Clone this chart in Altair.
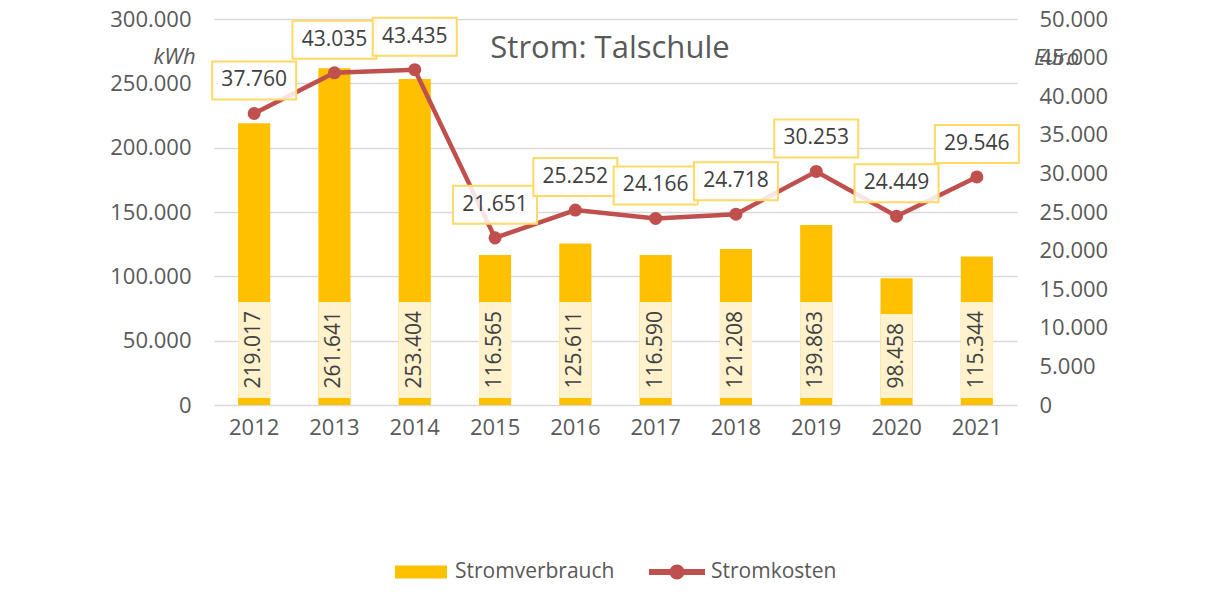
import altair as alt
import pandas as pd

years = ["2012", "2013", "2014", "2015", "2016", "2017", "2018", "2019", "2020", "2021"]
kwh = [219017, 261641, 253404, 116565, 125611, 116590, 121208, 139863, 98458, 115344]
euro = [37760, 43035, 43435, 21651, 25252, 24166, 24718, 30253, 24449, 29546]
series_names = ["Stromverbrauch", "Stromkosten"]
kwh_ticks = [0, 50000, 100000, 150000, 200000, 250000, 300000]
euro_ticks = [0, 5000, 10000, 15000, 20000, 25000, 30000, 35000, 40000, 45000, 50000]
chart_title = ["Strom: Talschule"]

df = pd.DataFrame({"year": years, "kwh": kwh, "euro": euro})
leg_df = pd.DataFrame({"series": series_names})
title_df = pd.DataFrame({"t": chart_title})

FONT = "Open Sans"
GOLD = "#FFC000"
RED = "#C0504D"
GRAY = "#595959"
DARK = "#404040"
BOXFILL = "#FFF2CC"
BOXLINE = "#FFD966"

BOX_PATH = "M-1,-0.4524L1,-0.4524L1,0.4524L-1,0.4524Z"
RECT_PATH = "M-0.93,-0.232L0.93,-0.232L0.93,0.232L-0.93,0.232Z"
LINEDOT_PATH = ("M-1,-0.107L1,-0.107L1,0.107L-1,0.107Z "
                "M-0.268,0A0.268,0.268 0 1,1 0.268,0A0.268,0.268 0 1,1 -0.268,0Z")

x = alt.X(
    "year:N", title=None,
    scale=alt.Scale(paddingInner=0.6, paddingOuter=0.3),
    axis=alt.Axis(labelAngle=0, labelFontSize=22, labelColor=GRAY, labelFont=FONT,
                  ticks=False, domain=False, labelPadding=12, grid=False),
)

kscale = alt.Scale(domain=[0, 300000], nice=False)
escale = alt.Scale(domain=[0, 50000], nice=False)

kaxis = alt.Axis(orient="left", values=kwh_ticks, format=",.0f", labelFontSize=22,
                 labelColor=GRAY, labelFont=FONT, ticks=False, domain=False,
                 labelPadding=23, grid=True, gridColor="#D9D9D9", gridWidth=1.5,
                 title="kWh", titleAngle=0, titleFontStyle="italic", titleFont=FONT,
                 titleFontSize=22, titleFontWeight="normal", titleColor=GRAY,
                 titleX=-40, titleY=37, titleAlign="center", titleBaseline="middle")

eaxis = alt.Axis(orient="right", values=euro_ticks, format=",.0f", labelFontSize=22,
                 labelColor=GRAY, labelFont=FONT, ticks=False, domain=False, grid=False,
                 labelPadding=22,
                 title="Euro", titleAngle=0, titleFontStyle="italic", titleFont=FONT,
                 titleFontSize=22, titleFontWeight="normal", titleColor=GRAY,
                 titleX=39, titleY=38, titleAlign="center", titleBaseline="middle")

base = alt.Chart(df)

bars = base.mark_bar(color=GOLD).encode(
    x=x, y=alt.Y("kwh:Q", scale=kscale, axis=kaxis, title="kWh"))

bar_boxes = base.mark_bar(color=BOXFILL).transform_calculate(
    b0="5440",
    b1="(length(format(datum.kwh, ',.0f')) * 12 + 19) * 777.2",
).encode(x=x, y=alt.Y("b0:Q", scale=kscale, axis=kaxis, title="kWh"), y2="b1:Q")

bar_text = base.mark_text(angle=270, align="left", baseline="middle", fontSize=21,
                          font=FONT, color=DARK).transform_calculate(
    tb="12800"
).encode(x=x, y=alt.Y("tb:Q", scale=kscale, axis=kaxis, title="kWh"),
         text=alt.Text("kwh:Q", format=",.0f"))

title_mark = alt.Chart(title_df).mark_text(
    fontSize=31, font=FONT, color=GRAY, baseline="alphabetic", align="center"
).encode(text="t:N", x=alt.value(396), y=alt.value(39))

left = alt.layer(bars, bar_boxes, bar_text, title_mark)

ye = alt.Y("euro:Q", scale=escale, axis=eaxis, title="Euro")

line = base.mark_line(color=RED, strokeWidth=4.5).encode(x=x, y=ye)
points = base.mark_point(filled=True, color=RED, size=170, opacity=1).encode(x=x, y=ye)
lboxes = base.mark_point(shape=BOX_PATH, size=7056, fill="white", fillOpacity=0.85,
                         stroke=BOXLINE, strokeWidth=2, opacity=1, yOffset=-33).encode(
    x=x, y=ye)
ltext = base.mark_text(dy=-33, fontSize=21, color=DARK, font=FONT, baseline="middle").encode(
    x=x, y=ye, text=alt.Text("euro:Q", format=",.0f"))

right = alt.layer(line, points, lboxes, ltext)

legend_layer = alt.Chart(leg_df).mark_point(filled=True, opacity=1).transform_filter(
    "false"
).encode(
    color=alt.Color("series:N", scale=alt.Scale(domain=series_names, range=[GOLD, RED]),
                    legend=alt.Legend(title=None)),
    shape=alt.Shape("series:N", scale=alt.Scale(domain=series_names,
                                                range=[RECT_PATH, LINEDOT_PATH]),
                    legend=alt.Legend(title=None)),
)

chart = alt.layer(left, right, legend_layer).resolve_scale(y="independent").properties(
    width=803, height=386,
    padding={"left": 101, "top": 0, "right": 5, "bottom": 5},
).configure(
    locale={"number": {"decimal": ",", "thousands": ".", "grouping": [3],
                       "currency": ["", " €"]}},
    background="white",
).configure_view(stroke="transparent").configure_legend(
    orient="none", legendX=179, legendY=525, direction="horizontal", labelFontSize=21,
    labelColor=GRAY, labelFont=FONT, symbolSize=3136, symbolStrokeWidth=0,
    columnPadding=34, labelOffset=6,
)

chart.save("out.html", embed_options={"renderer": "svg", "actions": False})
